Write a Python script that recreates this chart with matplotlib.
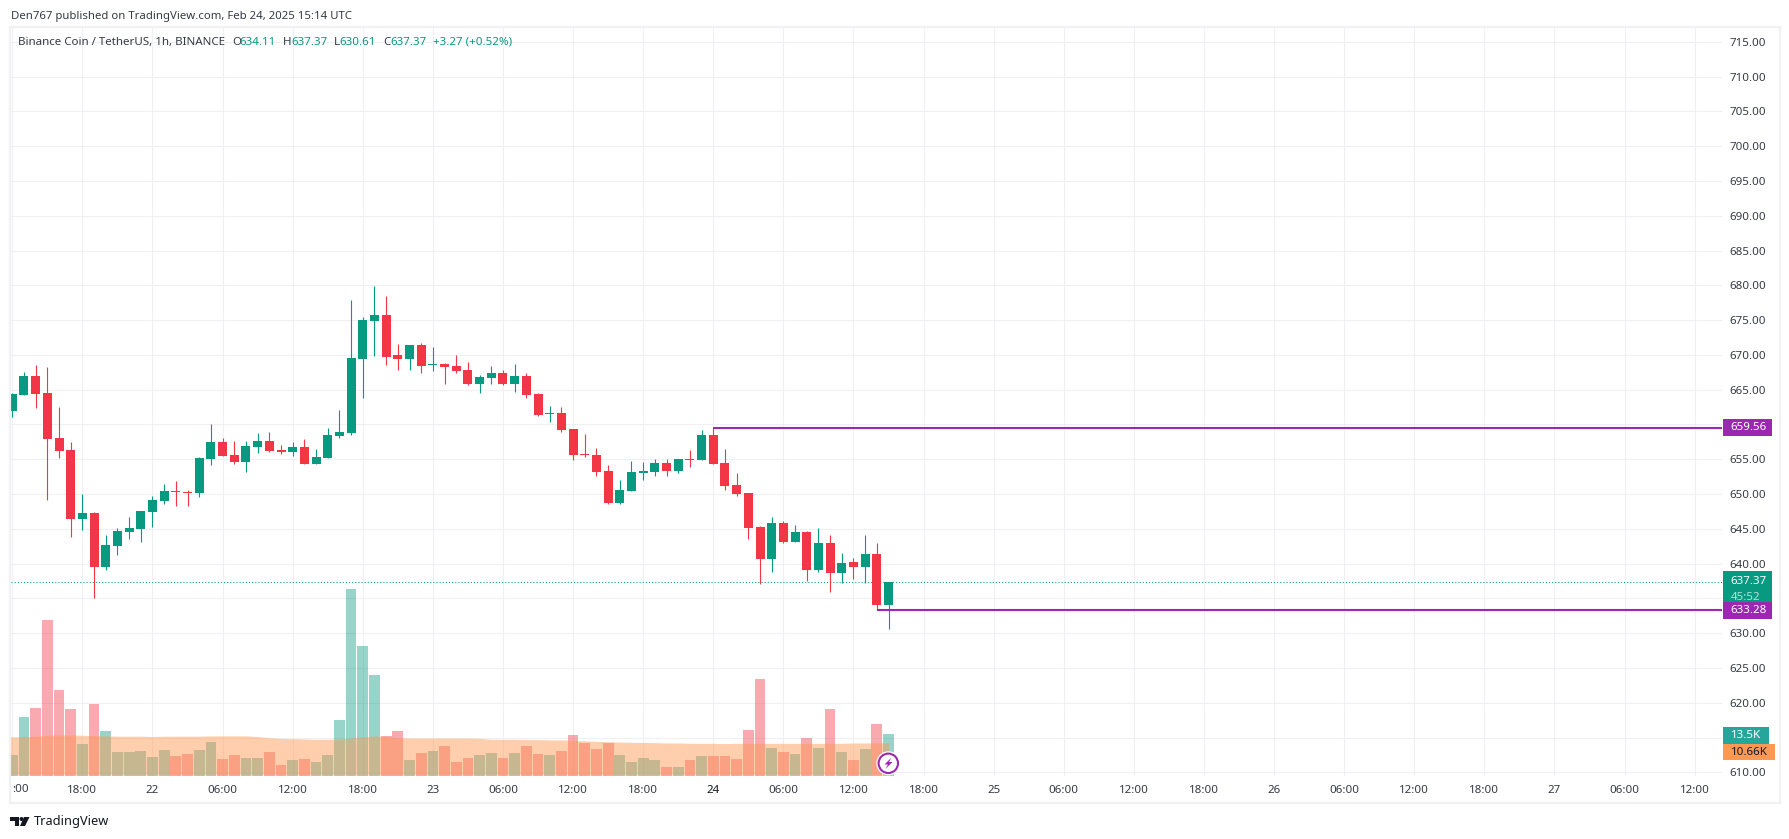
import matplotlib
matplotlib.use('Agg')
import matplotlib.pyplot as plt
from matplotlib.patches import Circle, Polygon, Rectangle

plt.rcParams['font.family'] = ['Noto Sans', 'DejaVu Sans']

UP = '#089981'
DOWN = '#f23645'
PURPLE = '#9c27b0'
ORANGE = '#ff9850'
TEAL = '#26a69a'
INK = '#363a45'
GRID = '#eff0f3'

# hourly candles, first bar is Feb 21 12:00
opens = [661.93, 664.23, 666.96, 664.52, 658.05, 656.32, 646.40, 647.27, 639.50, 642.52,
         644.54, 644.97, 647.41, 648.99, 650.43, 650.29, 650.14, 655.03, 657.47, 655.60,
         654.60, 656.75, 657.62, 656.32, 656.04, 656.75, 654.31, 655.17, 658.34, 658.77,
         669.41, 674.87, 675.73, 669.98, 669.41, 671.42, 668.54, 668.69, 668.47, 667.89,
         665.88, 666.74, 667.46, 665.88, 667.03, 664.44, 661.56, 661.70, 659.40, 655.80,
         655.66, 653.36, 648.75, 650.48, 653.07, 653.21, 654.50, 653.36, 655.08, 654.94,
         658.54, 654.50, 651.34, 650.19, 645.30, 640.70, 645.87, 643.14, 644.58, 639.11,
         643.00, 638.68, 640.27, 639.55, 641.42, 634.11]
highs = [664.52, 667.54, 668.54, 668.25, 662.50, 657.47, 650.00, 647.41, 644.10, 645.11,
         646.69, 647.55, 649.71, 651.44, 651.87, 650.57, 655.32, 660.06, 658.05, 657.62,
         657.62, 658.77, 658.91, 657.04, 657.47, 657.90, 656.47, 659.49, 662.07, 677.89,
         675.44, 679.90, 678.46, 671.56, 671.42, 671.71, 671.13, 668.83, 670.05, 669.04,
         667.17, 668.47, 667.89, 668.75, 667.46, 664.58, 662.71, 662.57, 659.40, 658.68,
         656.67, 654.22, 652.06, 654.80, 654.65, 655.08, 655.08, 655.08, 656.38, 659.26,
         659.56, 656.52, 653.07, 650.19, 645.44, 646.74, 646.16, 645.59, 644.72, 645.16,
         644.15, 641.56, 640.84, 644.15, 643.00, 637.37]
lows = [661.07, 664.23, 662.36, 649.14, 655.17, 643.82, 644.82, 635.05, 639.07, 641.23,
        643.53, 643.10, 645.25, 648.56, 648.27, 648.27, 649.57, 654.17, 655.46, 654.31,
        653.16, 655.89, 656.04, 655.75, 655.46, 654.31, 654.31, 655.17, 658.05, 658.48,
        663.80, 669.84, 668.54, 667.82, 667.82, 667.39, 667.68, 665.81, 667.46, 665.73,
        664.58, 665.88, 665.73, 664.72, 663.86, 661.27, 660.41, 658.97, 654.94, 655.37,
        652.64, 648.61, 648.61, 650.48, 652.06, 652.64, 652.64, 653.07, 653.93, 654.94,
        654.36, 650.62, 649.76, 643.57, 637.10, 638.83, 643.00, 643.14, 637.53, 638.83,
        635.95, 637.24, 637.82, 637.24, 633.28, 630.61]
closes = [664.37, 666.96, 664.37, 657.90, 656.18, 646.40, 647.27, 639.50, 642.67, 644.68,
          645.11, 647.55, 649.14, 650.43, 650.29, 650.14, 655.17, 657.47, 655.46, 654.60,
          656.90, 657.62, 656.18, 656.04, 656.75, 654.31, 655.32, 658.48, 658.91, 669.55,
          675.01, 675.73, 669.69, 669.41, 671.42, 668.40, 668.69, 668.25, 667.75, 665.88,
          666.88, 667.46, 665.88, 667.03, 664.29, 661.41, 661.70, 659.26, 655.66, 655.66,
          653.21, 648.75, 650.62, 653.21, 653.36, 654.50, 653.36, 655.08, 654.94, 658.54,
          654.36, 651.20, 650.05, 645.16, 640.70, 645.87, 643.14, 644.58, 639.11, 643.00,
          638.68, 640.12, 639.55, 641.42, 634.11, 637.37]

# volume in thousands
volumes = [6.7, 19.0, 21.9, 50.4, 27.8, 21.6, 10.3, 23.2, 14.5, 7.7,
           7.7, 8.0, 6.0, 8.3, 6.4, 7.0, 8.3, 10.9, 5.4, 6.7,
           5.7, 5.7, 7.7, 3.5, 5.1, 5.4, 4.4, 6.7, 18.0, 60.5,
           42.0, 32.6, 12.9, 14.5, 5.1, 7.3, 8.0, 9.6, 4.4, 5.7,
           6.7, 7.3, 5.7, 7.3, 9.6, 7.0, 6.7, 8.0, 13.2, 10.6,
           8.6, 10.6, 6.7, 4.4, 5.7, 5.1, 2.8, 2.8, 5.1, 6.4,
           6.4, 6.4, 5.4, 14.8, 31.3, 9.0, 7.7, 7.0, 12.2, 9.0,
           21.6, 7.7, 5.1, 8.6, 16.7, 13.5]
# volume average, starts one bar before the first candle
vol_ma_x = list(range(-1, 76))
vol_ma = [12.6, 12.6, 12.6, 12.8, 13.1, 13.2, 13.2, 13.1, 13.0, 12.9, 12.8,
          12.8, 12.8, 12.7, 12.8, 12.8, 12.8, 12.8, 12.9, 12.9, 12.9,
          12.9, 12.7, 12.3, 12.1, 12.0, 11.9, 11.8, 11.8, 11.9, 12.2,
          12.6, 12.9, 12.7, 12.3, 12.2, 12.2, 12.2, 12.2, 12.2, 12.2,
          12.1, 11.8, 11.8, 11.8, 11.7, 11.7, 11.6, 11.6, 11.5, 11.3,
          11.1, 11.0, 10.9, 10.8, 10.8, 10.7, 10.6, 10.6, 10.5, 10.5,
          10.5, 10.4, 10.5, 10.5, 10.5, 10.5, 10.5, 10.5, 10.5, 10.5,
          10.5, 10.5, 10.6, 10.6, 10.66, 10.66]

time_ticks = [6, 12, 18, 24, 30, 36, 42, 48, 54, 60, 66, 72, 78, 84, 90, 96, 102, 108, 114, 120, 126, 132, 138, 144]
time_labels = ['18:00', '22', '06:00', '12:00', '18:00', '23', '06:00', '12:00', '18:00', '24', '06:00', '12:00',
               '18:00', '25', '06:00', '12:00', '18:00', '26', '06:00', '12:00', '18:00', '27', '06:00', '12:00']
price_ticks = list(range(610, 720, 5))
hidden_prices = [615, 635, 660]
last_price = 637.37
high_mark = 659.56
low_mark = 633.28
high_mark_start = 60
low_mark_start = 74

W, H = 1790, 839
LEFT, RIGHT, TOP, BOTTOM = 11, 1722, 28, 775.7
BAR_PX = 11.683
PRICE_PX = 6.956


def px_axes(fig, x0, x1, y0, y1):
    return fig.add_axes([x0 / W, 1 - y1 / H, (x1 - x0) / W, (y1 - y0) / H])


fig = plt.figure(figsize=(W / 100, H / 100), dpi=100, facecolor='white')

ax = px_axes(fig, LEFT, RIGHT, TOP, BOTTOM)
ylim = (610 + (772.3 - BOTTOM) / PRICE_PX, 610 + (772.3 - TOP) / PRICE_PX)
xlim = ((LEFT - 12.3) / BAR_PX, (RIGHT - 12.3) / BAR_PX)
ax.set_xlim(xlim)
ax.set_ylim(ylim)
for s in ax.spines.values():
    s.set_visible(False)

# candles
for i in range(len(opens)):
    c = UP if closes[i] >= opens[i] else DOWN
    ax.vlines(i, lows[i], highs[i], color=c, linewidth=0.8, zorder=3)
    ax.bar(i, abs(closes[i] - opens[i]), bottom=min(opens[i], closes[i]), width=0.77, color=c, linewidth=0, zorder=4)

ax.axhline(last_price, color=UP, linewidth=0.75, linestyle=(0, (1, 2)), zorder=2)
ax.hlines(high_mark, high_mark_start, xlim[1], color=PURPLE, linewidth=1.5, zorder=5)
ax.hlines(low_mark, low_mark_start, xlim[1], color=PURPLE, linewidth=1.5, zorder=5)

# volume pane, shares the x scale
ax_vol = ax.twinx()
ax_vol.set_ylim(0, (BOTTOM - TOP) / 3.086)
ax_vol.set_yticks([])
for s in ax_vol.spines.values():
    s.set_visible(False)
for i, v in enumerate(volumes):
    c = UP if closes[i] >= opens[i] else DOWN
    ax_vol.bar(i, v, width=0.92, color=c, alpha=0.42, linewidth=0)
ax_vol.fill_between(vol_ma_x, 0.3, vol_ma, color=ORANGE, alpha=0.47, linewidth=0)

# twinx moves the main ticks to the left, so set them up after it
ax.set_axisbelow(True)
ax.grid(True, color=GRID, linewidth=0.75)
ax.yaxis.tick_right()
ax.set_yticks(price_ticks)
ax.set_yticklabels(['' if p in hidden_prices else f'{p:.2f}' for p in price_ticks])
ax.set_xticks([0] + time_ticks)
ax.set_xticklabels([''] + time_labels)
ax.tick_params(length=0, labelsize=8.3, labelcolor=INK)
ax.tick_params(axis='y', pad=5.6)
ax.tick_params(axis='x', pad=6.5)
for lab, txt in zip(ax.get_xticklabels()[1:], time_labels):
    if txt == '24':
        lab.set_fontweight('bold')
        lab.set_color('#131722')

# price scale labels
ax_p = px_axes(fig, RIGHT, 1780, TOP, BOTTOM)
ax_p.set_xlim(0, 58)
ax_p.set_ylim(ylim)
ax_p.axis('off')
ax_p.patch.set_alpha(0)
box_h = 16.7 / PRICE_PX


def price_box(y, text, color, width=49, text_color='white', weight='bold'):
    ax_p.add_patch(Rectangle((1, y - box_h / 2), width, box_h, color=color, linewidth=0, clip_on=False))
    ax_p.text(8.5, y, text, color=text_color, fontsize=8.3, fontweight=weight, va='center', ha='left')


price_box(high_mark, '659.56', PURPLE)
ax_p.add_patch(Rectangle((1, 633.28 + box_h / 2), 49, 30.7 / PRICE_PX, color=UP, linewidth=0))
ax_p.text(8.5, last_price, '637.37', color='white', fontsize=8.3, fontweight='bold', va='center')
ax_p.text(8.5, 635.2, '45:52', color='#b5e0d9', fontsize=8.3, va='center')
price_box(low_mark, '633.28', PURPLE)
price_box(615.3, '13.5K', TEAL, width=46)
price_box(612.9, '10.66K', ORANGE, width=52, text_color='#131722', weight='normal')

# page furniture drawn in pixel coordinates
ov = fig.add_axes([0, 0, 1, 1])
ov.set_xlim(0, W)
ov.set_ylim(H, 0)
ov.axis('off')
ov.patch.set_alpha(0)
ov.add_patch(Rectangle((10, 27), 1770, 776, fill=False, edgecolor='#f1f1f3', linewidth=1.6))

ov.text(10.7, 16, 'Den767 published on TradingView.com, Feb 24, 2025 15:14 UTC', fontsize=8.2, color='#363a45', va='center')
ov.text(18, 42.5, 'Binance Coin / TetherUS, 1h, BINANCE', fontsize=8.3, color=INK, va='center')
legend_bits = [(232, 'O', INK), (239, '634.11', UP), (283, 'H', INK), (291, '637.37', UP),
               (334, 'L', INK), (339, '630.61', UP), (383, 'C', INK), (390, '637.37', UP),
               (433, '+3.27 (+0.52%)', UP)]
for x, t, c in legend_bits:
    ov.text(x, 42.5, t, fontsize=8.3, color=c, va='center')
ov.text(12, 790, ':00', fontsize=8.3, color=INK, va='center')

# lightning badge
ov.add_patch(Circle((888.3, 763.3), 12, color='white', linewidth=0))
ov.add_patch(Circle((888.3, 763.3), 9.7, facecolor='white', edgecolor=PURPLE, linewidth=1.5))
ov.add_patch(Polygon([(891.5, 757.5), (884.5, 764.5), (888, 764.5), (885.5, 769), (892.5, 762), (889, 762)], color=PURPLE, linewidth=0))

# logo
ov.add_patch(Polygon([(10, 817), (19, 817), (19, 826), (15, 826), (15, 821), (10, 821)], color='#131722', linewidth=0))
ov.add_patch(Circle((21.5, 819), 2, color='#131722', linewidth=0))
ov.add_patch(Polygon([(24, 817), (29.5, 817), (25, 826), (20, 826)], color='#131722', linewidth=0))
ov.text(33.5, 821.5, 'TradingView', fontsize=9.2, color='#131722', va='center')

fig.savefig('out.png', dpi=100)
